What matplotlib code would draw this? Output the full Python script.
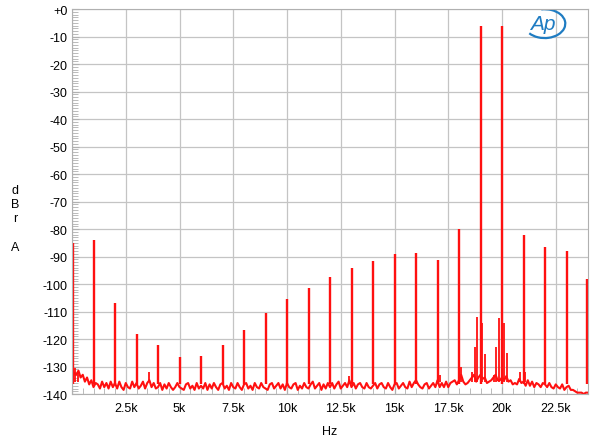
import numpy as np
import matplotlib
matplotlib.use("Agg")
import matplotlib.pyplot as plt
from matplotlib.patches import Arc
from matplotlib.ticker import MultipleLocator

plt.rcParams['font.family'] = ['Liberation Sans', 'DejaVu Sans']

# noise floor, dBr, one value every 100 Hz from 0 to 24 kHz
floor_db = [
    -131, -132.5, -133, -131.5, -134, -133, -135.5, -134, -136.5, -135, -137.5, -136, -136.5, -138, -135.5, -137.5, -136, -138, -135.5, -137.5,
    -136, -138, -135.5, -137.5, -138.5, -136, -137.5, -138, -135.5, -137.5, -136, -138, -137, -135.5, -138, -136, -135, -137.5, -136, -138,
    -137.5, -136, -138.5, -136.5, -138, -136, -137.5, -138.5, -137.5, -136, -137.5, -138, -138.5, -136.5, -136, -138, -137, -138.5, -136, -138,
    -137, -138, -136, -138.5, -136.5, -138, -136, -137.5, -138.5, -136.5, -136, -138, -137, -138.5, -136, -137.5, -138, -136, -137.5, -138.5,
    -136.5, -136, -138, -137, -138.5, -136, -137.5, -138, -136, -137.5, -138, -138.5, -136.5, -136, -138, -137, -136, -138, -136.5, -138.5,
    -136, -137.5, -138, -136.5, -136, -138.5, -137, -138, -136, -137.5, -138, -136.5, -135.5, -138, -137, -136, -138.5, -136.5, -138, -136,
    -137.5, -136, -138, -136.5, -135.5, -138, -137, -136, -137.5, -135, -137.5, -136, -138, -136.5, -136, -137.5, -138, -136, -137.5, -138,
    -137, -136, -138, -136.5, -136, -137.5, -138, -136, -137.5, -138.5, -136.5, -136, -138, -137, -136, -137.5, -138, -135.5, -137.5, -136,
    -135, -136.5, -137.5, -138, -136.5, -136, -138, -137, -136, -137.5, -135, -137.5, -136, -137.5, -135.5, -137.5, -136, -135.5, -135, -136.5,
    -135, -133, -135.5, -136.5, -136, -135, -134, -133, -135.5, -134, -133, -134.5, -134, -136, -135.5, -135, -134, -133, -135, -135,
    -134, -135, -133.5, -135.5, -135, -136.5, -136, -136.5, -134.5, -136, -135.5, -137, -135, -137, -135.5, -137.5, -136, -136.5, -137.5, -136,
    -136.5, -137.5, -136, -137.5, -138, -136.5, -137.5, -138, -136.5, -138.5, -137.5, -137, -138.5, -138.5, -139, -139.5, -139.5, -139.5, -140, -139.5,
    -139.5,
]
floor_khz = np.arange(len(floor_db)) * 0.1

# tones and intermodulation products at 1 kHz spacing
tone_khz = [0.03, 1, 2, 3, 4, 5, 6, 7, 8, 9, 10, 11, 12, 13, 14, 15, 16, 17, 18, 19, 20, 21, 22, 23, 23.97]
tone_db = [-85, -84, -107, -118, -122, -126.5, -126, -122, -116.7, -110.5, -105.5, -101.5, -97.5, -94,
           -91.6, -89, -88.7, -91.3, -80, -6.2, -6.2, -82, -86.5, -88, -98]

# smaller spurs around the tones
spur_khz = [0.15, 0.3, 3.6, 12.9, 16.0, 17.1, 18.1, 18.6, 18.73, 18.82, 19.09, 19.2, 19.63, 19.72, 19.85,
            20.08, 20.22, 20.84, 21.07]
spur_db = [-130.5, -131.5, -132, -133.5, -133, -133, -130, -132, -123, -112, -114, -125.5, -133, -123, -112.5,
           -114, -125, -132, -132]

fig = plt.figure(figsize=(6, 4.39), dpi=100)
ax = fig.add_axes([0.12, 0.1002, 0.86, 0.877])

red = '#ff1010'
ax.plot(floor_khz, floor_db, color=red, lw=1.5)
ax.vlines(tone_khz, -136.5, tone_db, color=red, lw=1.7)
ax.vlines(spur_khz, -135.5, spur_db, color=red, lw=1.3)

ax.set_xlim(0, 24)
ax.set_ylim(-140, 0)

ax.xaxis.set_major_locator(MultipleLocator(2.5))
ax.xaxis.set_minor_locator(MultipleLocator(0.5))
ax.yaxis.set_major_locator(MultipleLocator(10))
ax.yaxis.set_minor_locator(MultipleLocator(1))

xt = np.arange(0, 24.1, 2.5)
ax.set_xticks(xt)
ax.set_xticklabels(['' if v == 0 else ('%gk' % v) for v in xt])
yt = np.arange(-140, 1, 10)
ax.set_yticks(yt)
ax.set_yticklabels(['+0' if v == 0 else '%d' % v for v in yt])

ax.grid(True, which='major', color='#c4c4c4', lw=0.9)
ax.set_axisbelow(True)
ax.tick_params(which='both', direction='in', color='#b0b0b0', labelsize=9, right=False, top=False)
ax.tick_params(which='major', length=5, pad=3)
ax.tick_params(which='minor', length=4, width=0.6)
ax.tick_params(axis='x', pad=6)
for s in ax.spines.values():
    s.set_color('#b0b0b0')

ax.set_xlabel('Hz', fontsize=9, labelpad=8)
fig.text(0.025, 0.5, 'd\nB\nr\n\nA', fontsize=9, ha='center', va='center', linespacing=1.25)

# Ap logo
ax.text(0.913, 0.962, 'Ap', transform=ax.transAxes, color='#1f7cc2', fontsize=15,
        fontstyle='italic', ha='center', va='center')
ax.add_patch(Arc((0.916, 0.962), 0.08, 0.075, theta1=-140, theta2=100,
                 transform=ax.transAxes, color='#1f7cc2', lw=1.6))

fig.savefig('out.png', dpi=100)
